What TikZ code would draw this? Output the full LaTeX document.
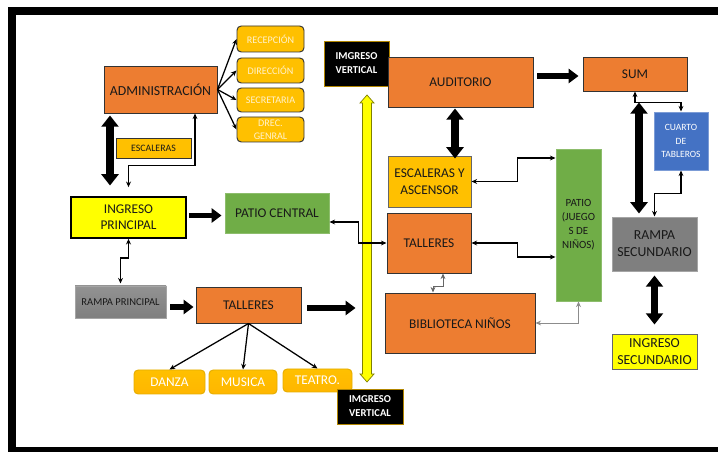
\documentclass[tikz,border=0pt]{standalone}
\usepackage{fontspec}
\setmainfont{Carlito}
\usetikzlibrary{arrows.meta,calc}
\definecolor{naranja}{HTML}{ED7D31}
\definecolor{oro}{HTML}{FFC000}
\definecolor{verde}{HTML}{70AD47}
\definecolor{azul}{HTML}{4472C4}
\definecolor{gris}{HTML}{7F7F7F}
\definecolor{amarillo}{HTML}{FFFF00}
\definecolor{crema}{HTML}{FFF2CC}

\begin{document}
\begin{tikzpicture}[x=0.025cm,y=-0.025cm,
  sz/.style 2 args={minimum width=#1*0.025cm,minimum height=#2*0.025cm},
  caja/.style={draw=black!80,line width=0.7pt,inner sep=0pt,align=center,text=black!90,font=\fontsize{9.5}{11.5}\selectfont},
  area/.style={caja,fill=naranja},
  sub/.style={caja,fill=oro,rounded corners=3pt,text=crema,font=\fontsize{7.2}{9}\selectfont},
  actividad/.style={caja,draw=oro!90!black,top color=oro,bottom color=oro!85!orange,rounded corners=3pt,text=white,font=\fontsize{9.5}{11}\selectfont},
  ingreso/.style={caja,fill=amarillo,draw=black},
  patio/.style={caja,fill=verde,draw=verde!80!white},
  rampa/.style={caja,draw=gris!70!white,top color=gris!85!white,bottom color=gris},
  vertical/.style={caja,fill=black,draw=oro!70!black,text=white,font=\bfseries\fontsize{7.5}{10}\selectfont},
  gordo/.style={line width=4pt,-{Triangle[length=7pt,width=10pt]}},
  doble/.style={line width=5pt,{Triangle[length=8pt,width=12pt]}-{Triangle[length=8pt,width=12pt]}},
  fino/.style={line width=0.9pt,-{Stealth[length=4pt,width=3.5pt]}},
  finos/.style={line width=0.9pt,{Stealth[length=4pt,width=3.5pt]}-{Stealth[length=4pt,width=3.5pt]}}]

  \useasboundingbox (0,0) rectangle (718,452);
  \clip (0,0) rectangle (718,452);
  % marco
  \draw[line width=5.7pt] (12,11) rectangle (760,451);

  % ingreso vertical (flecha amarilla)
  \coordinate (vtop) at (367,95);
  \coordinate (vbot) at (367,382);
  \filldraw[fill=amarillo,draw=black!50!amarillo,line width=0.5pt]
    (vtop) -- ++(7,8) -- ++(-2.5,0) -- ($(vbot)+(4.5,-8)$) -- ++(2.5,0) -- (vbot)
    -- ++(-7,-8) -- ++(2.5,0) -- ($(vtop)+(-4.5,8)$) -- ++(-2.5,0) -- cycle;

  % bloque izquierdo
  \node[area,sz={113}{47},font=\fontsize{9.8}{11}\selectfont] (adm) at (160.5,89.5) {ADMINISTRACIÓN};
  \node[sub,sz={67}{26}] (rec) at (270.5,39) {RECEPCIÓN};
  \node[sub,sz={67}{25}] (dir) at (270.5,70.5) {DIRECCIÓN};
  \node[sub,sz={67}{24}] (sec) at (270.5,100) {SECRETARIA};
  \node[sub,sz={67}{25}] (dre) at (270.5,129.5) {DREC.\\GENRAL};
  \node[caja,fill=oro,sz={75}{20},font=\fontsize{7}{8}\selectfont] (esc) at (153.5,148) {ESCALERAS};
  \node[ingreso,line width=1.2pt,sz={115}{41}] (ingp) at (128.5,217.5) {INGRESO\\PRINCIPAL};
  \node[patio,sz={104}{40}] (patc) at (277,213) {PATIO CENTRAL};
  \node[rampa,sz={91}{32},font=\fontsize{7.5}{9}\selectfont] (rampp) at (120.5,302) {RAMPA PRINCIPAL};
  \node[area,sz={105}{36}] (tal1) at (248.5,305) {TALLERES};
  \node[actividad,sz={71}{24}] (danza) at (169.5,382) {DANZA};
  \node[actividad,sz={68}{24}] (musica) at (243,382) {MUSICA};
  \node[actividad,sz={69}{23}] (teatro) at (317.5,380.5) {TEATRO.};
  \node[vertical,sz={65}{45}] (iv1) at (356.5,63.5) {IMGRESO\\VERTICAL};
  \node[vertical,sz={66}{35}] (iv2) at (370,406.5) {IMGRESO\\VERTICAL};

  % bloque derecho
  \node[area,sz={145}{50}] (aud) at (460.5,82) {AUDITORIO};
  \node[area,sz={104}{34}] (sum) at (635,74) {SUM};
  \node[caja,fill=oro,draw=black!60,sz={83}{51},font=\fontsize{9.5}{12}\selectfont] (esca) at (429.5,181.5) {ESCALERAS Y\\ASCENSOR};
  \node[area,sz={84}{60}] (tal2) at (429,243) {TALLERES};
  \node[area,sz={150}{60}] (bib) at (460,323) {BIBLIOTECA NIÑOS};
  \node[patio,sz={45}{152},font=\fontsize{7.8}{10}\selectfont] (patio) at (578.5,225) {PATIO\\(JUEGO\\S DE\\NIÑOS)};
  \node[caja,fill=gris,draw=gris!70!white,sz={85}{54},font=\fontsize{9.8}{12}\selectfont] (rampas) at (654.5,244) {RAMPA\\SECUNDARIO};
  \node[caja,fill=azul,draw=azul!70!white,text=white,sz={54}{58},font=\fontsize{6.8}{9.5}\selectfont] (cuarto) at (681,141) {CUARTO\\DE\\TABLEROS};
  \node[ingreso,draw=black!60,sz={85}{35},font=\fontsize{9.8}{12}\selectfont] (ings) at (654.5,351.5) {INGRESO\\SECUNDARIO};

  % conexiones izquierda
  \foreach \d in {rec,dir,sec,dre}
    \draw[fino] (adm.east) -- (\d.west);
  \draw[doble] ($(adm.south)+(-50.5,2)$) -- ++(0,70);
  \draw[finos] ($(adm.south)+(34.5,0)$) -- ++(0,52) -| ($(ingp.north)+(0,-9)$);
  \draw[gordo] ($(ingp.east)+(2,-2)$) -- ($(patc.west)+(-3,2.5)$);
  \draw[finos,line width=1.2pt] (ingp.south) -- ++(0,19) -| ($(rampp.north)+(0,-2)$);
  \draw[gordo] ($(rampp.east)+(4,5)$) -- ($(tal1.west)+(-2,2)$);
  \draw[gordo] ($(tal1.east)+(6,3)$) -- ++(48,0);
  \foreach \d in {danza,musica,teatro}
    \draw[fino] (tal1.south) -- (\d.north);

  % conexiones derecha
  \draw[gordo] ($(aud.east)+(4,-6)$) -- ($(sum.west)+(-4,2)$);
  \draw[doble] ($(aud.south)+(-5.5,1)$) -- ++(0,50);
  \draw[doble] ($(sum.south)+(4,11)$) -- ++(0,111);
  \draw[doble] ($(rampas.south)+(0,4)$) -- ($(ings.north)+(0,-9)$);
  \draw[finos] (sum.south) -- ++(0,11) -| (cuarto.north);
  \draw[finos] (cuarto.south) -- ++(0,23) -| (rampas.north);
  \draw[finos] (esca.east) -- ++(46,0) |- ($(patio.west)+(0,-67)$);
  \draw[finos,line width=1.3pt] ($(patc.east)+(0,9)$) -- ++(29,0) |- (tal2.west);
  \draw[finos] (tal2.east) -- ++(46,0) |- ($(patio.west)+(0,32)$);
  \draw[finos,line width=0.6pt,draw=black!60] ($(tal2.south)+(14,0)$) -- ++(0,13) -| ($(bib.north)+(-27,0)$);
  \draw[finos,line width=0.6pt,draw=black!45] (bib.east) -| (patio.south);
\end{tikzpicture}
\end{document}
